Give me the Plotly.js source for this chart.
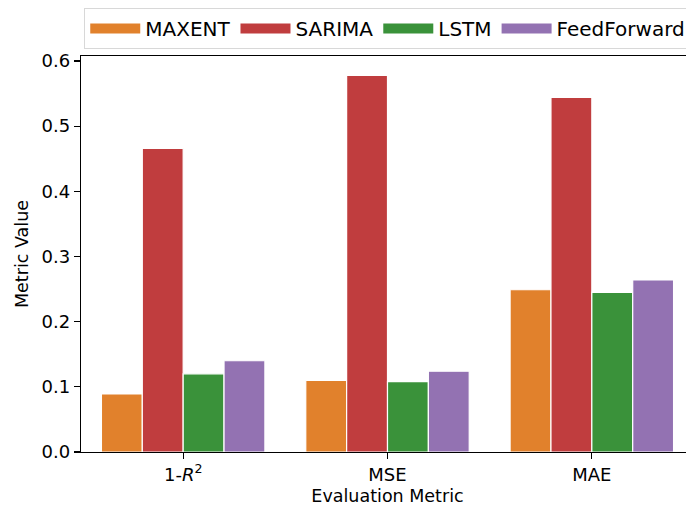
<!DOCTYPE html>
<html>
<head>
<meta charset="utf-8">
<script src="https://cdn.plot.ly/plotly-3.0.1.min.js"></script>
<style>
  html, body { margin: 0; padding: 0; background: #fff; overflow: hidden; }
  #chart { width: 720px; height: 506px; }
</style>
</head>
<body>
<div id="chart"></div>
<script>
// Evaluation metrics per model
const metrics = ['1-<i>R</i><sup>2</sup>', 'MSE', 'MAE'];
const models = ['MAXENT', 'SARIMA', 'LSTM', 'FeedForward'];
const maxent = [0.089, 0.110, 0.249];
const sarima = [0.466, 0.578, 0.544];
const lstm = [0.120, 0.108, 0.245];
const feedForward = [0.140, 0.124, 0.264];
const colors = ['#e1812c', '#c03d3e', '#3a923a', '#9372b2'];

const seriesValues = [maxent, sarima, lstm, feedForward];
const font = 'DejaVu Sans, sans-serif';

const traces = [];
// Bars
seriesValues.forEach((vals, i) => {
  traces.push({
    type: 'bar',
    name: models[i],
    x: metrics,
    y: vals,
    legendgroup: models[i],
    showlegend: false,
    marker: { color: colors[i], line: { color: '#ffffff', width: 1.2 } }
  });
});
// Legend entries drawn as wide colour patches
seriesValues.forEach((vals, i) => {
  traces.push({
    type: 'scatter',
    mode: 'lines',
    name: models[i],
    x: [null],
    y: [null],
    legendgroup: models[i],
    showlegend: true,
    line: { color: colors[i], width: 12.5 }
  });
});

const axisLine = { showline: true, linecolor: '#000', linewidth: 1.2, mirror: true,
  ticks: 'outside', ticklen: 6, tickwidth: 1.2, tickcolor: '#000',
  showgrid: false, zeroline: false };

const layout = {
  width: 720,
  height: 506,
  margin: { l: 81, r: 26, t: 56, b: 54, autoexpand: false },
  paper_bgcolor: '#fff',
  plot_bgcolor: '#fff',
  font: { family: font, size: 18, color: '#000' },
  barmode: 'group',
  bargap: 0.2,
  bargroupgap: 0,
  showlegend: true,
  legend: {
    orientation: 'h',
    x: 0.0053, xanchor: 'left',
    y: 1.121, yanchor: 'top',
    bgcolor: '#fff',
    bordercolor: '#d8d8d8',
    borderwidth: 1,
    font: { family: font, size: 20, color: '#000' },
    itemwidth: 50,
    traceorder: 'normal'
  },
  xaxis: Object.assign({}, axisLine, {
    type: 'category',
    range: [-0.5, 2.5],
    tickfont: { family: font, size: 18 },
    title: { text: 'Evaluation Metric', font: { family: font, size: 17.5 }, standoff: 15 }
  }),
  yaxis: Object.assign({}, axisLine, {
    range: [0, 0.6077],
    dtick: 0.1,
    tick0: 0,
    tickformat: '.1f',
    tickfont: { family: font, size: 18 },
    title: { text: 'Metric Value', font: { family: font, size: 17.5 }, standoff: 8 }
  })
};

Plotly.newPlot('chart', traces, layout, { staticPlot: true, displayModeBar: false });
</script>
</body>
</html>
